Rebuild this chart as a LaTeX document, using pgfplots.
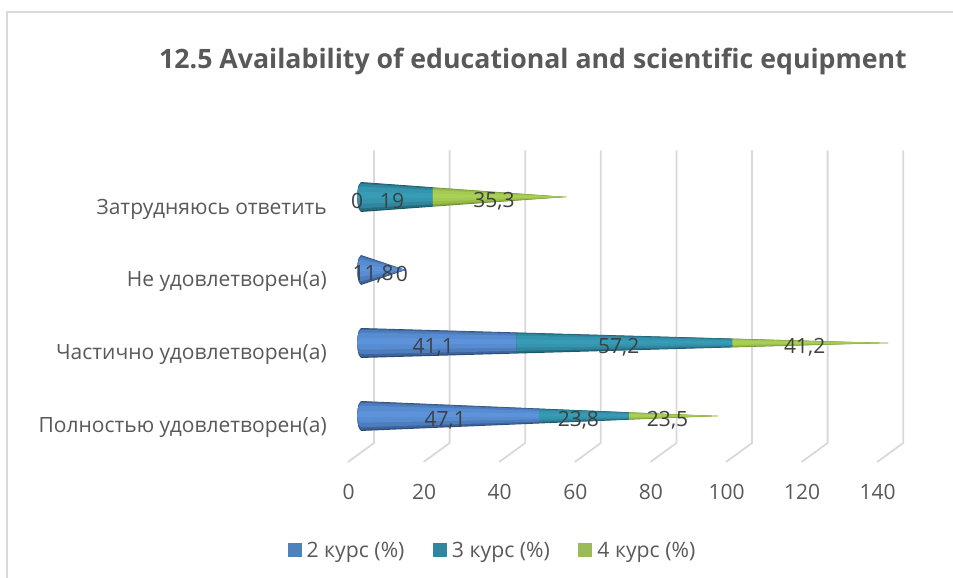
\documentclass[border=0pt]{standalone}
\usepackage{pgfplots}
\pgfplotsset{compat=1.18}
\usepackage{fontspec}
\setmainfont{Open Sans}

\definecolor{txt}{HTML}{595959}
\definecolor{gridc}{HTML}{D9D9D9}
\definecolor{frame}{HTML}{D9D9D9}
\definecolor{blueL}{HTML}{5C93DA}
\definecolor{blueD}{HTML}{2B4A78}
\definecolor{tealL}{HTML}{389CB6}
\definecolor{tealD}{HTML}{1A5465}
\definecolor{greenL}{HTML}{AAD156}
\definecolor{greenD}{HTML}{6C8C30}
\definecolor{blueK}{HTML}{4F81BD}
\definecolor{tealK}{HTML}{31859C}
\definecolor{greenK}{HTML}{9BBB59}

\pgfplotstableread{
x y label
-1 3 0
8.2 3 19
35.2 3 35,3
3.2 2 11,8
10.8 2 0
19.1 1 41,1
68.2 1 57,2
117.4 1 41,2
22.3 0 47,1
57.5 0 23,8
81.1 0 23,5
}\labels

% half width of a cone base, in category units
\def\hw{0.205}

% #1 category, #2 from, #3 to, #4 total, #5 colour, #6 bulge of the base
\newcommand\conepiece[6]{%
  \ifdim#3pt>#2pt
  \foreach \kt/\kb/\m in {1/1/0,.97/.92/35,.88/.75/70,.7/.45/90,.35/.1/100}{
    \pgfmathsetmacro\hs{\hw*(1-#2/#4)}
    \pgfmathsetmacro\he{\hw*(1-#3/#4)}
    \pgfmathsetmacro\ya{#1+\hs*\kt}
    \pgfmathsetmacro\yb{#1+\he*\kt}
    \pgfmathsetmacro\yc{#1-\he*\kb}
    \pgfmathsetmacro\yd{#1-\hs*\kb}
    \pgfmathsetmacro\yup{#1+\hs*\kt*.8}
    \pgfmathsetmacro\yuq{#1+\hs*\kt*.45}
    \pgfmathsetmacro\ydq{#1-\hs*\kb*.45}
    \pgfmathsetmacro\ydp{#1-\hs*\kb*.8}
    \pgfmathsetmacro\xp{#2-#6*.6}
    \pgfmathsetmacro\xq{#2-#6*.89}
    \pgfmathsetmacro\xr{#2-#6}
    \edef\temp{\noexpand\addplot[forget plot,draw=none,fill=#5L!\m!#5D] coordinates {
      (#2,\ya) (#3,\yb) (#3,\yc) (#2,\yd) (\xp,\ydp) (\xq,\ydq) (\xr,#1) (\xq,\yuq) (\xp,\yup)
    } -- cycle;}\temp
  }
  \fi
}
% #1 category, #2 #3 #4 the three values
\newcommand\cone[4]{%
  \pgfmathsetmacro\sa{#2}
  \pgfmathsetmacro\sb{#2+#3}
  \pgfmathsetmacro\sc{#2+#3+#4}
  \pgfmathsetmacro\bb{#2==0 ? 1 : 0}
  \conepiece{#1}{0}{\sa}{\sc}{blue}{1}
  \conepiece{#1}{\sa}{\sb}{\sc}{teal}{\bb}
  \conepiece{#1}{\sb}{\sc}{\sc}{green}{0}
}

\begin{document}
\begin{tikzpicture}[x=1pt,y=1pt]
\path[use as bounding box] (0,0) rectangle (953,578);
% chart frame
\draw[frame,line width=2pt] (7,0) -- (7,566) -- (953,566);
\node[font=\fontsize{26.7}{30}\selectfont\bfseries,text=txt,anchor=center] at (533,517) {12.5 Availability of educational and scientific equipment};

\begin{axis}[
  anchor=origin,
  at={(361pt,162pt)},
  x=3.78pt,
  y=73pt,
  xmin=-6,xmax=145,
  ymin=-0.72,ymax=3.7,
  clip=false,
  axis line style={draw=none},
  major tick length=0pt,
  xtick={-3.3,16.7,36.7,56.7,76.7,96.7,116.7,136.7},
  xticklabels={0,20,40,60,80,100,120,140},
  ytick={0,1,2,3},
  yticklabels={Полностью удовлетворен(а),Частично удовлетворен(а),Не удовлетворен(а),Затрудняюсь ответить},
  tick label style={font=\fontsize{21}{24}\selectfont,text=txt},
  xticklabel style={yshift=-12pt},
  yticklabel style={yshift=-12pt,xshift=-8pt},
  legend columns=3,
  legend style={at={(0.27,-0.253)},anchor=center,draw=none,fill=none,
    font=\fontsize{21.2}{24}\selectfont,text=txt,
    /tikz/every odd column/.append style={column sep=3pt},
    /tikz/every even column/.append style={column sep=26.5pt}},
  legend cell align=left,
  legend image code/.code={\fill[#1] (0pt,-7pt) rectangle (14pt,7pt);},
]
\addlegendimage{fill=blueK,draw=none}
\addlegendentry{2 курс (\%)}
\addlegendimage{fill=tealK,draw=none}
\addlegendentry{3 курс (\%)}
\addlegendimage{fill=greenK,draw=none}
\addlegendentry{4 курс (\%)}

% back wall and floor lines
\addplot[forget plot,gridc,line width=1.8pt] coordinates {(3.44,3.64) (3.44,-0.37) (-3.44,-0.63)};
\addplot[forget plot,gridc,line width=1.8pt] coordinates {(23.44,3.64) (23.44,-0.37) (16.56,-0.63)};
\addplot[forget plot,gridc,line width=1.8pt] coordinates {(43.44,3.64) (43.44,-0.37) (36.56,-0.63)};
\addplot[forget plot,gridc,line width=1.8pt] coordinates {(63.44,3.64) (63.44,-0.37) (56.56,-0.63)};
\addplot[forget plot,gridc,line width=1.8pt] coordinates {(83.44,3.64) (83.44,-0.37) (76.56,-0.63)};
\addplot[forget plot,gridc,line width=1.8pt] coordinates {(103.44,3.64) (103.44,-0.37) (96.56,-0.63)};
\addplot[forget plot,gridc,line width=1.8pt] coordinates {(123.44,3.64) (123.44,-0.37) (116.56,-0.63)};
\addplot[forget plot,gridc,line width=1.8pt] coordinates {(143.44,3.64) (143.44,-0.37) (136.56,-0.63)};

\cone{0}{47.1}{23.8}{23.5}
\cone{1}{41.1}{57.2}{41.2}
\cone{2}{11.8}{0}{0}
\cone{3}{0}{19}{35.3}

\addplot[forget plot,only marks,mark=none,
  point meta=explicit symbolic,
  nodes near coords,
  nodes near coords style={anchor=center,text=black!75,font=\fontsize{21}{24}\selectfont,yshift=-4pt}]
  table[x=x,y=y,meta=label] {\labels};
\end{axis}
\end{tikzpicture}
\end{document}
